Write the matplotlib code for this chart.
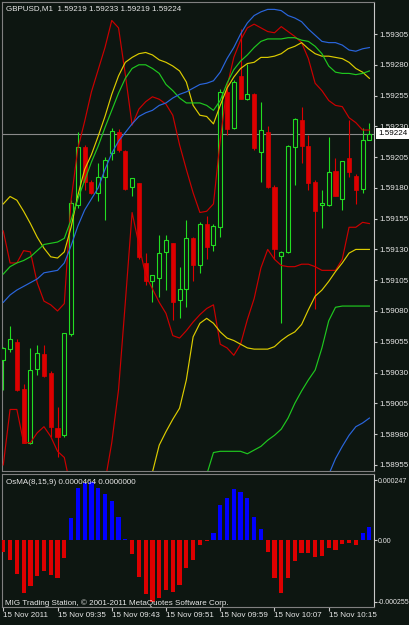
import matplotlib
matplotlib.use('Agg')
import matplotlib.pyplot as plt
import numpy as np
from matplotlib.transforms import blended_transform_factory

plt.rcParams['font.family'] = ['Liberation Sans', 'DejaVu Sans']

BG = '#0d1611'
FG = '#e8e8e8'

# ---------------- data ----------------
time_labels = ['15 Nov 2011', '15 Nov 09:35', '15 Nov 09:43', '15 Nov 09:51',
               '15 Nov 09:59', '15 Nov 10:07', '15 Nov 10:15']
time_ticks = [0, 8, 16, 24, 32, 40, 48]

opens = [1.59040, 1.59049, 1.59055, 1.59017, 1.58973, 1.59033, 1.59045, 1.59030, 1.58985, 1.58979,
         1.59061, 1.59166, 1.59213, 1.59185, 1.59176, 1.59189, 1.59208, 1.59225, 1.59210, 1.59181,
         1.59184, 1.59119, 1.59104, 1.59107, 1.59128, 1.59135, 1.59089, 1.59098, 1.59139, 1.59117,
         1.59151, 1.59134, 1.59148, 1.59258, 1.59229, 1.59271, 1.59252, 1.59256, 1.59209, 1.59225,
         1.59181, 1.59125, 1.59128, 1.59213, 1.59235, 1.59214, 1.59185, 1.59166, 1.59166, 1.59194,
         1.59171, 1.59204, 1.59190, 1.59179, 1.59219]
highs = [1.59051, 1.59068, 1.59057, 1.59021, 1.59050, 1.59052, 1.59052, 1.59031, 1.59002, 1.59062,
         1.59170, 1.59225, 1.59215, 1.59186, 1.59200, 1.59205, 1.59229, 1.59228, 1.59211, 1.59188,
         1.59184, 1.59127, 1.59109, 1.59142, 1.59142, 1.59135, 1.59116, 1.59154, 1.59140, 1.59152,
         1.59157, 1.59151, 1.59260, 1.59264, 1.59268, 1.59309, 1.59281, 1.59257, 1.59250, 1.59230,
         1.59182, 1.59129, 1.59215, 1.59237, 1.59246, 1.59223, 1.59186, 1.59178, 1.59221, 1.59204,
         1.59202, 1.59235, 1.59191, 1.59229, 1.59233]
lows = [1.59016, 1.59047, 1.59015, 1.58973, 1.58972, 1.59028, 1.59026, 1.58978, 1.58961, 1.58978,
        1.59060, 1.59164, 1.59178, 1.59175, 1.59169, 1.59154, 1.59203, 1.59209, 1.59178, 1.59173,
        1.59122, 1.59101, 1.59087, 1.59091, 1.59097, 1.59073, 1.59074, 1.59083, 1.59104, 1.59111,
        1.59122, 1.59129, 1.59140, 1.59223, 1.59228, 1.59252, 1.59251, 1.59211, 1.59185, 1.59180,
        1.59122, 1.59070, 1.59127, 1.59182, 1.59200, 1.59178, 1.59082, 1.59147, 1.59165, 1.59173,
        1.59162, 1.59189, 1.59167, 1.59176, 1.59219]
closes = [1.59050, 1.59057, 1.59016, 1.58973, 1.59032, 1.59046, 1.59027, 1.58986, 1.58978, 1.59062,
          1.59168, 1.59213, 1.59185, 1.59176, 1.59189, 1.59203, 1.59226, 1.59211, 1.59179, 1.59188,
          1.59124, 1.59104, 1.59109, 1.59127, 1.59138, 1.59087, 1.59098, 1.59139, 1.59117, 1.59151,
          1.59132, 1.59149, 1.59258, 1.59228, 1.59266, 1.59252, 1.59256, 1.59212, 1.59227, 1.59181,
          1.59130, 1.59128, 1.59214, 1.59236, 1.59214, 1.59184, 1.59161, 1.59168, 1.59193, 1.59173,
          1.59202, 1.59193, 1.59178, 1.59219, 1.59224]

red_upper = [1.59145, 1.59119, 1.59119, 1.59129, 1.59128, 1.59103, 1.59088, 1.59085, 1.59080, 1.59086,
             1.59170, 1.59212, 1.59234, 1.59258, 1.59276, 1.59294, 1.59316, 1.59310, 1.59272, 1.59231,
             1.59244, 1.59250, 1.59254, 1.59252, 1.59248, 1.59239, 1.59215, 1.59195, 1.59176, 1.59160,
             1.59161, 1.59167, 1.59219, 1.59262, 1.59286, 1.59300, 1.59310, 1.59313, 1.59310, 1.59307,
             1.59306, 1.59311, 1.59307, 1.59303, 1.59298, 1.59285, 1.59265, 1.59259, 1.59251, 1.59247,
             1.59246, 1.59237, 1.59233, 1.59227, 1.59227]
red_lower = [1.58955, 1.59000, 1.59000, 1.58973, 1.58973, 1.58981, 1.58986, 1.58978, 1.58966, 1.58961,
             1.58935, 1.58923, 1.58919, 1.58923, 1.58931, 1.58941, 1.58973, 1.59016, 1.59087, 1.59160,
             1.59134, 1.59109, 1.59098, 1.59087, 1.59078, 1.59060, 1.59058, 1.59064, 1.59071, 1.59077,
             1.59082, 1.59085, 1.59053, 1.59050, 1.59044, 1.59053, 1.59073, 1.59090, 1.59115, 1.59130,
             1.59122, 1.59117, 1.59116, 1.59116, 1.59118, 1.59118, 1.59116, 1.59113, 1.59113, 1.59113,
             1.59122, 1.59148, 1.59148, 1.59152, 1.59151]
yellow_upper = [1.59167, 1.59173, 1.59170, 1.59161, 1.59151, 1.59140, 1.59131, 1.59124, 1.59123, 1.59128,
                1.59148, 1.59174, 1.59195, 1.59207, 1.59222, 1.59238, 1.59256, 1.59271, 1.59282, 1.59286,
                1.59289, 1.59290, 1.59288, 1.59284, 1.59282, 1.59279, 1.59275, 1.59266, 1.59247, 1.59239,
                1.59238, 1.59232, 1.59247, 1.59261, 1.59270, 1.59277, 1.59281, 1.59282, 1.59286, 1.59286,
                1.59287, 1.59289, 1.59293, 1.59295, 1.59298, 1.59293, 1.59289, 1.59287, 1.59287, 1.59286,
                1.59285, 1.59282, 1.59277, 1.59274, 1.59269]
yellow_lower_start = 20
yellow_lower = [1.58910, 1.58927, 1.58949, 1.58971, 1.58982, 1.58992, 1.59001, 1.59024, 1.59059, 1.59070,
                1.59074, 1.59070, 1.59063, 1.59058, 1.59056, 1.59053, 1.59050, 1.59049, 1.59049, 1.59049,
                1.59051, 1.59056, 1.59060, 1.59063, 1.59069, 1.59081, 1.59092, 1.59097, 1.59104, 1.59112,
                1.59119, 1.59127, 1.59130, 1.59130, 1.59130]
green_upper = [1.59110, 1.59116, 1.59119, 1.59121, 1.59124, 1.59129, 1.59134, 1.59135, 1.59136, 1.59139,
               1.59154, 1.59171, 1.59186, 1.59201, 1.59214, 1.59229, 1.59243, 1.59257, 1.59269, 1.59277,
               1.59280, 1.59280, 1.59277, 1.59273, 1.59264, 1.59259, 1.59253, 1.59249, 1.59249, 1.59249,
               1.59247, 1.59243, 1.59251, 1.59265, 1.59276, 1.59283, 1.59288, 1.59294, 1.59299, 1.59301,
               1.59301, 1.59301, 1.59302, 1.59302, 1.59300, 1.59299, 1.59295, 1.59289, 1.59279, 1.59274,
               1.59273, 1.59273, 1.59272, 1.59273, 1.59275]
green_lower_start = 29
green_lower = [1.58927, 1.58947, 1.58965, 1.58966, 1.58966, 1.58966, 1.58966, 1.58964, 1.58967, 1.58970,
               1.58975, 1.58979, 1.58984, 1.58993, 1.59005, 1.59015, 1.59024, 1.59032, 1.59050, 1.59072,
               1.59083, 1.59084, 1.59084, 1.59084, 1.59084, 1.59084]
blue_upper = [1.59087, 1.59093, 1.59097, 1.59100, 1.59103, 1.59106, 1.59111, 1.59112, 1.59113, 1.59119,
              1.59133, 1.59149, 1.59162, 1.59171, 1.59180, 1.59195, 1.59208, 1.59218, 1.59225, 1.59232,
              1.59238, 1.59241, 1.59243, 1.59247, 1.59249, 1.59253, 1.59256, 1.59258, 1.59261, 1.59264,
              1.59265, 1.59267, 1.59274, 1.59285, 1.59294, 1.59305, 1.59314, 1.59320, 1.59323, 1.59325,
              1.59325, 1.59324, 1.59320, 1.59318, 1.59315, 1.59309, 1.59304, 1.59299, 1.59298, 1.59298,
              1.59296, 1.59292, 1.59291, 1.59293, 1.59294]
blue_lower_start = 47
blue_lower = [1.58927, 1.58947, 1.58960, 1.58970, 1.58979, 1.58986, 1.58989, 1.58993]

osma = [-0.0000494, -0.0000823, -0.000140, -0.000218, -0.000189, -0.000148, -0.000128, -0.000144,
        -0.000156, -0.0000741, 0.0000906, 0.000214, 0.000235, 0.000239, 0.000214, 0.000189, 0.000161,
        0.0000947, 0.000003, -0.0000576, -0.000152, -0.000222, -0.000255, -0.000239, -0.000206,
        -0.000214, -0.000185, -0.000115, -0.0000823, -0.0000206, -0.0000041, 0.0000288, 0.000144,
        0.000173, 0.000210, 0.000198, 0.000173, 0.0000947, 0.0000453, -0.0000494, -0.000156,
        -0.000218, -0.000156, -0.0000865, -0.0000535, -0.0000535, -0.0000700, -0.0000659,
        -0.0000329, -0.0000412, -0.0000165, -0.0000124, -0.0000206, 0.0000288, 0.0000535]

price_ticks = [1.59305, 1.59280, 1.59255, 1.59230, 1.59205, 1.59180, 1.59155, 1.59130,
               1.59105, 1.59080, 1.59055, 1.59030, 1.59005, 1.58980, 1.58955]
osma_ticks = [0.000247, 0.0, -0.000255]
osma_tick_labels = ['0.000247', '0.00', '-0.000255']
last_price = 1.59224

header_text = 'GBPUSD,M1  1.59219 1.59233 1.59219 1.59224'
osma_header = 'OsMA(8,15,9) 0.0000464 0.0000000'
copyright_text = 'MIG Trading Station, \u00a9 2001-2011 MetaQuotes Software Corp.'

# ---------------- figure ----------------
W, H = 410, 625
fig = plt.figure(figsize=(W / 100, H / 100), dpi=100, facecolor=BG)

def px_axes(x0, y0, x1, y1):
    return fig.add_axes([x0 / W, 1 - y1 / H, (x1 - x0) / W, (y1 - y0) / H])

ax = px_axes(2, 2, 374, 471)
ax2 = px_axes(2, 474, 374, 607)

n = len(opens)
idx = np.arange(n)
XLIM = (-0.19, 54.68)

RED = '#dd0000'
GREEN = '#22dd22'
LRED = '#cc0000'
YEL = '#dccc00'
LGRN = '#1fc81f'
BLUE = '#2a66dd'

for a in (ax, ax2):
    a.set_facecolor(BG)
    a.set_xlim(*XLIM)
    for s in a.spines.values():
        s.set_color('#808080')
        s.set_linewidth(0.8)
    a.spines['right'].set_color('#c8c8c8')

ax.set_ylim(1.58950, 1.59331)
ax2.set_ylim(-0.0002758, 0.0002717)

# current price line
ax.axhline(last_price, color='#8a8a8a', lw=0.8, zorder=1)

# candles
o = np.array(opens); c = np.array(closes); h = np.array(highs); l = np.array(lows)
bull = c >= o
ax.vlines(idx[bull], l[bull], h[bull], colors=GREEN, lw=0.8, zorder=2)
ax.vlines(idx[~bull], l[~bull], h[~bull], colors=RED, lw=0.8, zorder=2)
ax.bar(idx[bull], c[bull] - o[bull], bottom=o[bull], width=0.6,
       facecolor=BG, edgecolor=GREEN, linewidth=0.8, zorder=3)
ax.bar(idx[~bull], c[~bull] - o[~bull], bottom=o[~bull], width=0.6,
       facecolor=RED, edgecolor=RED, linewidth=0.5, zorder=3)

# bands
lw = 0.85
ax.plot(idx, red_upper, color=LRED, lw=lw, zorder=4)
ax.plot(idx, red_lower, color=LRED, lw=lw, zorder=4)
ax.plot(idx, yellow_upper, color=YEL, lw=lw, zorder=4)
ax.plot(np.arange(yellow_lower_start, yellow_lower_start + len(yellow_lower)), yellow_lower,
        color=YEL, lw=lw, zorder=4)
ax.plot(idx, green_upper, color=LGRN, lw=lw, zorder=4)
ax.plot(np.arange(green_lower_start, green_lower_start + len(green_lower)), green_lower,
        color=LGRN, lw=lw, zorder=4)
ax.plot(idx, blue_upper, color=BLUE, lw=lw, zorder=4)
ax.plot(np.arange(blue_lower_start, blue_lower_start + len(blue_lower)), blue_lower,
        color=BLUE, lw=lw, zorder=4)

# price axis
FS = 5.8
ax.yaxis.tick_right()
ax.set_yticks(price_ticks)
ax.set_yticklabels([f'{p:.5f}' for p in price_ticks])
ax.tick_params(axis='y', colors='#c8c8c8', labelcolor=FG, labelsize=FS, length=2.5,
               width=0.8, pad=1.2)
ax.set_xticks([])

tr = blended_transform_factory(ax.transAxes, ax.transData)
ax.annotate(f'{last_price:.5f}', xy=(1.0, last_price), xycoords=tr, xytext=(3, 0),
            textcoords='offset points', ha='left', va='center', fontsize=FS, color='black',
            bbox=dict(boxstyle='square,pad=0.22', fc='white', ec='none'),
            annotation_clip=False, zorder=10)

# oscillator
osa = np.array(osma)
cols = np.where(osa >= 0, '#0000ff', RED)
ax2.bar(idx, osa, width=0.62, color=cols, linewidth=0, zorder=3)
ax2.yaxis.tick_right()
ax2.set_yticks(osma_ticks)
ax2.set_yticklabels(osma_tick_labels)
ax2.tick_params(axis='y', colors='#c8c8c8', labelcolor=FG, labelsize=5.0, length=2.2,
                width=0.8, pad=0.8)
ax2.set_xticks(time_ticks)
ax2.set_xticklabels(time_labels)
for lbl in ax2.get_xticklabels():
    lbl.set_horizontalalignment('left')
ax2.tick_params(axis='x', colors='#c8c8c8', labelcolor=FG, labelsize=FS, length=3,
                width=0.8, pad=0.5)

# texts
fig.text(6 / W, 1 - 9 / H, header_text, ha='left', va='center', fontsize=FS, color=FG)
fig.text(6 / W, 1 - 482 / H, osma_header, ha='left', va='center', fontsize=FS, color=FG)
fig.text(5 / W, 1 - 603 / H, copyright_text, ha='left', va='center', fontsize=FS, color=FG)

fig.savefig('out.png', dpi=100, facecolor=BG)
